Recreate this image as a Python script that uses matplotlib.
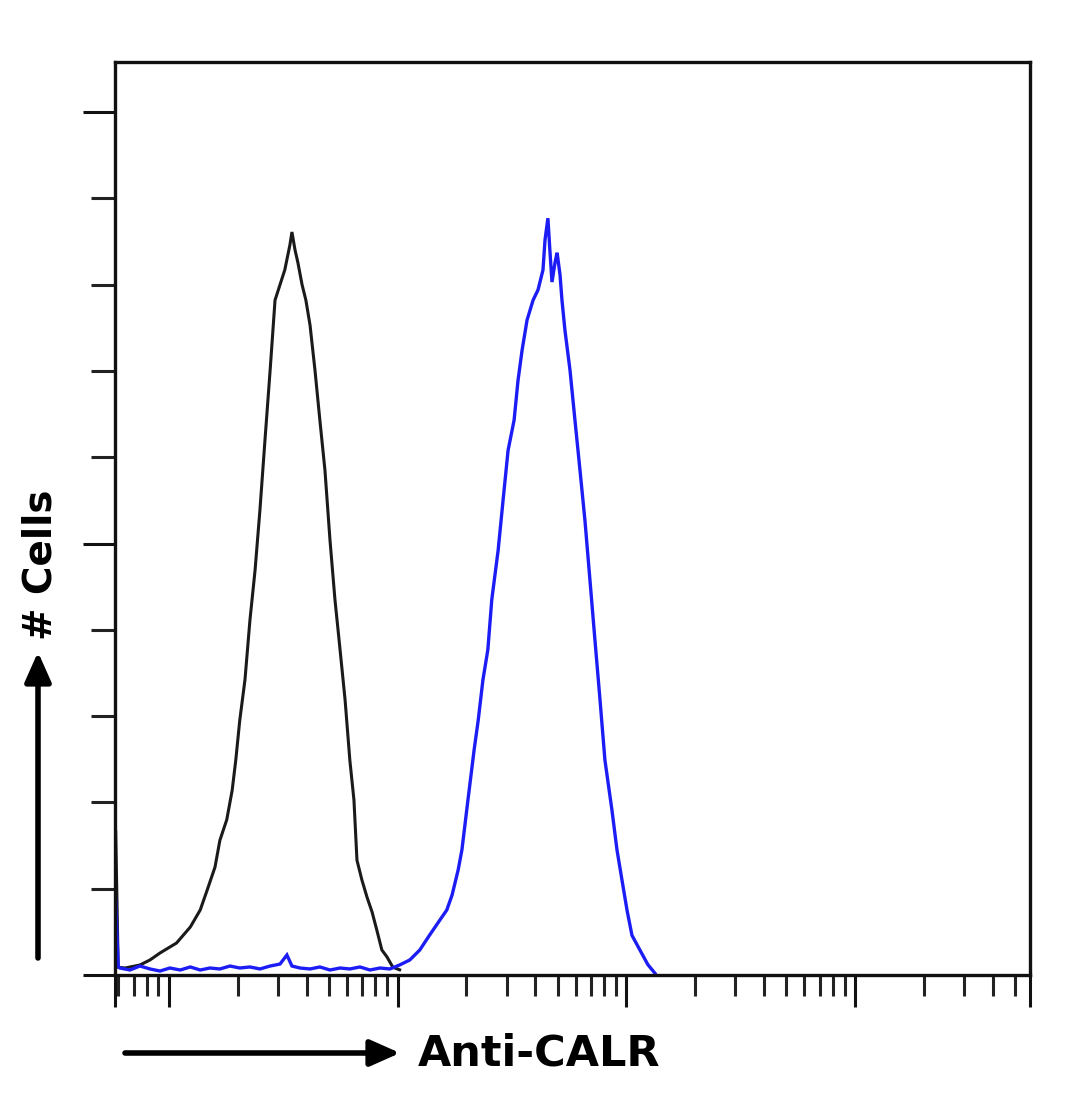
import matplotlib
matplotlib.use("Agg")
import matplotlib.pyplot as plt
from matplotlib.patches import FancyArrowPatch
from matplotlib.ticker import LogLocator, NullFormatter, FixedLocator

# ---- data (fluorescence intensity, cell count units) ----
control_x = [5.85, 6.0, 6.43, 7.47, 8.26, 9.14, 10.8, 12.4, 13.7, 14.7, 15.9, 16.7, 17.9,
             18.9, 19.6, 20.4, 21.5, 22.6, 23.8, 25.0, 26.3, 27.7, 29.1, 30.6, 32.1,
             33.8, 34.5, 35.6, 36.6, 38.2, 39.7, 41.4, 43.5, 45.7, 48.1, 50.6, 53.2,
             56.0, 58.9, 61.8, 64.4, 66.4, 69.8, 73.5, 77.3, 81.1, 85.3, 89.8, 95.3, 102]
control_y = [16.6, 0.9, 0.81, 1.16, 1.74, 2.55, 3.71, 5.56, 7.53, 9.85, 12.5, 15.6, 18.0,
             21.4, 24.9, 29.5, 34.2, 41.1, 46.9, 53.9, 62.0, 70.1, 78.2, 80.0, 81.7,
             84.6, 86.1, 84.0, 82.6, 80.0, 78.2, 75.3, 70.1, 64.3, 58.5, 50.4, 43.5,
             37.7, 31.9, 24.9, 20.3, 13.3, 11.0, 9.0, 7.3, 5.2, 2.9, 2.1, 0.9, 0.6]

calr_x = [5.85, 6.0, 6.1, 6.75, 7.47, 8.26, 9.14, 10.1, 11.2, 12.4, 13.7, 15.1, 16.7, 18.5,
          20.4, 22.6, 25.0, 27.7, 30.6, 32.8, 34.5, 37.4, 41.4, 45.7, 50.6, 56.0,
          61.8, 68.4, 75.7, 83.7, 92.5, 102, 113, 125, 138, 153, 164, 173, 184, 191,
          203, 216, 225, 236, 248, 258, 275, 289, 304, 323, 336, 350, 368, 391, 411,
          432, 441, 454, 463, 473, 488, 498, 513, 523, 539, 567, 596, 627, 659, 693,
          729, 767, 806, 865, 910, 957, 1007, 1058, 1146, 1242, 1334]
calr_y = [8.7, 1.0, 0.81, 0.58, 1.04, 0.70, 0.46, 0.81, 0.58, 0.93, 0.58, 0.81, 0.70, 1.04,
          0.81, 0.93, 0.70, 1.04, 1.27, 2.32, 1.04, 0.81, 0.70, 0.93, 0.58, 0.81,
          0.70, 0.93, 0.58, 0.81, 0.70, 1.16, 1.74, 2.90, 4.63, 6.37, 7.53, 9.27, 12.2, 14.5,
          20.3, 26.1, 29.5, 34.2, 37.7, 43.5, 49.2, 55.0, 60.8, 64.3, 68.9, 72.4, 75.9, 78.2, 79.4,
          81.7, 85.2, 87.7, 84.0, 80.3, 82.6, 83.7, 81.1, 78.2, 74.7, 70.1, 64.3, 58.5, 52.7, 45.8,
          38.8, 31.9, 24.9, 19.1, 14.5, 11.0, 7.5, 4.6, 2.9, 1.2, 0.2]

x_limits = [5.81, 58200]
x_major = [5.81, 10, 100, 1000, 10000, 58200]
y_major = [0, 50, 100]
y_minor = [10, 20, 30, 40, 60, 70, 80, 90]
y_limits = [0, 105.8]

xlabel = "Anti-CALR"
ylabel = "# Cells"

# ---- figure ----
fig = plt.figure(figsize=(10.8, 11.1), dpi=100)
ax = fig.add_axes([115/1080, 1 - 975/1110, (1030-115)/1080, (975-62)/1110])

ax.plot(control_x, control_y, color="#1a1a1a", lw=2.2, solid_joinstyle="miter")
ax.plot(calr_x, calr_y, color="#1c1cf5", lw=2.4, solid_joinstyle="miter")

ax.set_xscale("log")
ax.set_xlim(*x_limits)
ax.set_ylim(*y_limits)

ax.xaxis.set_major_locator(FixedLocator(x_major))
ax.xaxis.set_minor_locator(LogLocator(base=10, subs=[2, 3, 4, 5, 6, 7, 8, 9], numticks=20))
ax.xaxis.set_major_formatter(NullFormatter())
ax.xaxis.set_minor_formatter(NullFormatter())
ax.yaxis.set_major_locator(FixedLocator(y_major))
ax.yaxis.set_minor_locator(FixedLocator(y_minor))
ax.yaxis.set_major_formatter(NullFormatter())
ax.yaxis.set_minor_formatter(NullFormatter())

ax.tick_params(axis="both", which="major", direction="out", length=23, width=2.2, color="#111111")
ax.tick_params(axis="x", which="minor", direction="out", length=15, width=2.2, color="#222222")
ax.tick_params(axis="y", which="minor", direction="out", length=17, width=2.2, color="#222222")

for s in ax.spines.values():
    s.set_linewidth(2.4)
    s.set_color("#111111")

# axis labels with arrows
arrow_style = "-|>,head_length=9,head_width=4"
fig.add_artist(FancyArrowPatch(
    (125/1080, 1 - 1053/1110), (400/1080, 1 - 1053/1110), transform=fig.transFigure,
    arrowstyle=arrow_style, lw=4.0, color="black", mutation_scale=2,
    shrinkA=0, shrinkB=0))
fig.add_artist(FancyArrowPatch(
    (38/1080, 1 - 958/1110), (38/1080, 1 - 652/1110), transform=fig.transFigure,
    arrowstyle=arrow_style, lw=4.0, color="black", mutation_scale=2,
    shrinkA=0, shrinkB=0))

fig.text(418/1080, 1 - 1053/1110, xlabel, ha="left", va="center", fontsize=31,
         fontweight="bold", family="DejaVu Sans")
fig.text(40/1080, 1 - 565/1110, ylabel, ha="center", va="center", fontsize=28,
         fontweight="bold", rotation=90, family="DejaVu Sans")

fig.savefig("out.png", dpi=100)
